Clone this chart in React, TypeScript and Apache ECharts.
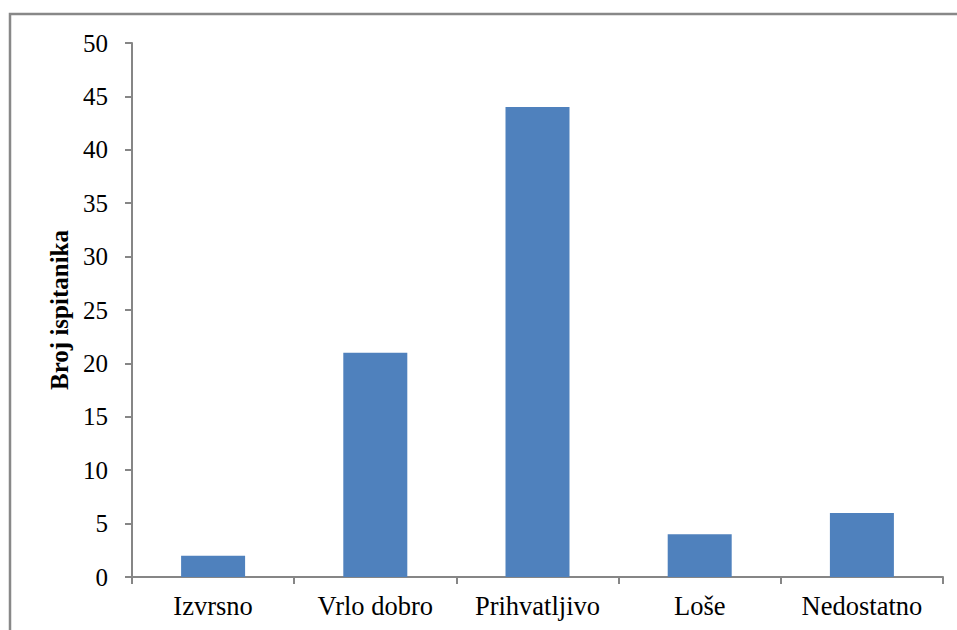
import React, { useEffect, useRef } from "react";
import * as echarts from "echarts";

const categories = ["Izvrsno", "Vrlo dobro", "Prihvatljivo", "Loše", "Nedostatno"];
const values = [2, 21, 44, 4, 6];
const yAxisTitle = "Broj ispitanika";

const FONT = "'Liberation Serif', 'Times New Roman', serif";
const AXIS_COLOR = "#868686";

export default function App() {
  const ref = useRef<HTMLDivElement>(null);
  useEffect(() => {
    if (!ref.current) return;
    const chart = echarts.init(ref.current, undefined, { renderer: "svg" });
    chart.setOption({
      animation: false,
      backgroundColor: "#ffffff",
      textStyle: { fontFamily: FONT },
      graphic: [
        {
          type: "rect",
          shape: { x: 10, y: 14, width: 1000, height: 700 },
          style: { fill: "none", stroke: "#888888", lineWidth: 2.5 },
          silent: true,
        },
      ],
      grid: { left: 132, right: 14, top: 43, bottom: 53, containLabel: false },
      xAxis: {
        type: "category",
        data: categories,
        axisLine: { show: true, lineStyle: { color: AXIS_COLOR, width: 2 } },
        axisTick: { show: true, length: 7, interval: 0, alignWithLabel: false, lineStyle: { color: AXIS_COLOR, width: 2 } },
        axisLabel: { color: "#000", fontFamily: FONT, fontSize: 26.5, margin: 15, interval: 0, hideOverlap: false },
        splitLine: { show: false },
      },
      yAxis: {
        type: "value",
        min: 0,
        max: 50,
        interval: 5,
        name: yAxisTitle,
        nameLocation: "middle",
        nameRotate: 90,
        nameGap: 60,
        nameTextStyle: { color: "#000", fontFamily: FONT, fontSize: 25, fontWeight: "bold" },
        axisLine: { show: true, lineStyle: { color: AXIS_COLOR, width: 2 } },
        axisTick: { show: true, length: 7, lineStyle: { color: AXIS_COLOR, width: 2 } },
        axisLabel: { color: "#000", fontFamily: FONT, fontSize: 25, margin: 24 },
        splitLine: { show: false },
      },
      series: [
        {
          type: "bar",
          data: values,
          barWidth: 64,
          itemStyle: { color: "#4F81BD" },
        },
      ],
    });
    return () => chart.dispose();
  }, []);
  return (
    <div
      ref={ref}
      style={{ position: "fixed", left: 0, top: 0, width: 957, height: 630 }}
    />
  );
}
